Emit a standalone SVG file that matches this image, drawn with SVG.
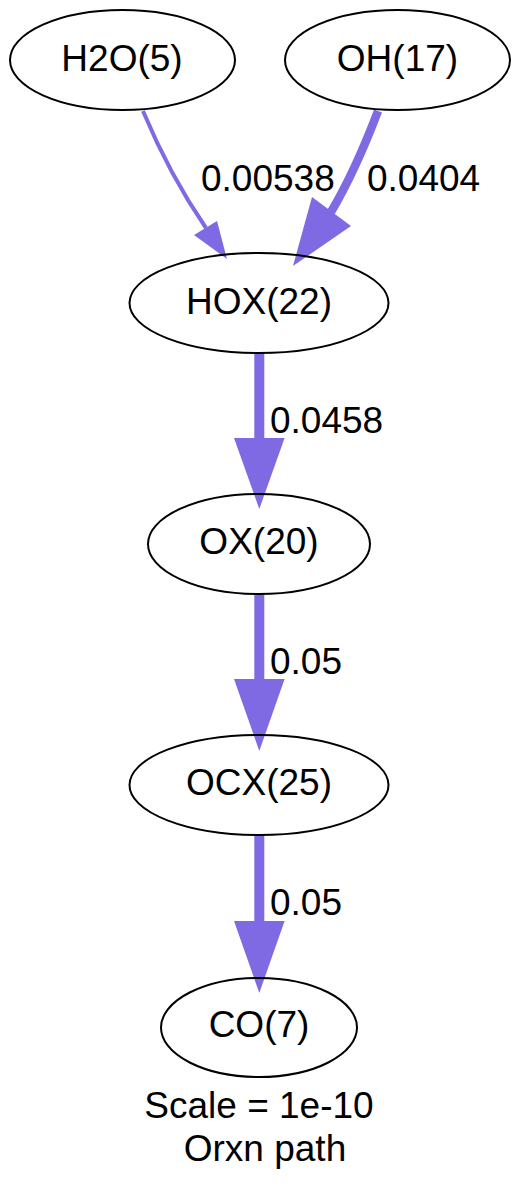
<svg xmlns="http://www.w3.org/2000/svg" width="521" height="1194" viewBox="0 0 521 1194">
<style>
  .node ellipse { fill: none; stroke: #000; stroke-width: 2; }
  text { font-family: "Liberation Sans", Arial, Helvetica, sans-serif; font-size: 37px; fill: #000; }
  .node text, .caption { text-anchor: middle; }
  .edge path { fill: none; stroke: #806ae3; }
  .edge polygon { fill: #806ae3; stroke: none; }
</style>
<rect width="521" height="1194" fill="#fff"/>
<g id="connectors">
  <g class="edge" id="e_h2o_hox">
    <path d="M143,111 C158,147 180,190 206,228" stroke-width="4"/>
    <polygon points="194,235 217,221 227,259"/>
    <text x="201" y="191">0.00538</text>
  </g>
  <g class="edge" id="e_oh_hox">
    <path d="M378,111 C367,140 350,180 331,212" stroke-width="8.5"/>
    <polygon points="312,197 351,226 293,266"/>
    <text x="367" y="191">0.0404</text>
  </g>
  <g class="edge" id="e_hox_ox">
    <path d="M259.3,353 L259.3,440" stroke-width="10"/>
    <polygon points="234,438 284.6,438 259.3,509"/>
    <text x="270" y="433">0.0458</text>
  </g>
  <g class="edge" id="e_ox_ocx">
    <path d="M259.3,594 L259.3,681" stroke-width="10"/>
    <polygon points="234,679 284.6,679 259.3,751"/>
    <text x="270" y="674">0.05</text>
  </g>
  <g class="edge" id="e_ocx_co">
    <path d="M259.3,835 L259.3,923" stroke-width="10"/>
    <polygon points="234,921 284.6,921 259.3,993"/>
    <text x="270" y="915">0.05</text>
  </g>
</g>
<g class="node" id="H2O_5">
  <ellipse cx="122.5" cy="60" rx="112.5" ry="50"/>
  <text x="122" y="70.5">H2O(5)</text>
</g>
<g class="node" id="OH_17">
  <ellipse cx="397.5" cy="60" rx="112.5" ry="50"/>
  <text x="397.5" y="70.5">OH(17)</text>
</g>
<g class="node" id="HOX_22">
  <ellipse cx="259" cy="303" rx="129.5" ry="50"/>
  <text x="259" y="313.5">HOX(22)</text>
</g>
<g class="node" id="OX_20">
  <ellipse cx="259" cy="544" rx="111" ry="50"/>
  <text x="259" y="553.5">OX(20)</text>
</g>
<g class="node" id="OCX_25">
  <ellipse cx="259" cy="785" rx="129.5" ry="50"/>
  <text x="259" y="795">OCX(25)</text>
</g>
<g class="node" id="CO_7">
  <ellipse cx="259" cy="1027.5" rx="98" ry="49.5"/>
  <text x="259" y="1037">CO(7)</text>
</g>
<g id="caption">
  <text class="caption" x="259" y="1118">Scale = 1e-10</text>
  <text class="caption" x="265" y="1161">Orxn path</text>
</g>
</svg>
